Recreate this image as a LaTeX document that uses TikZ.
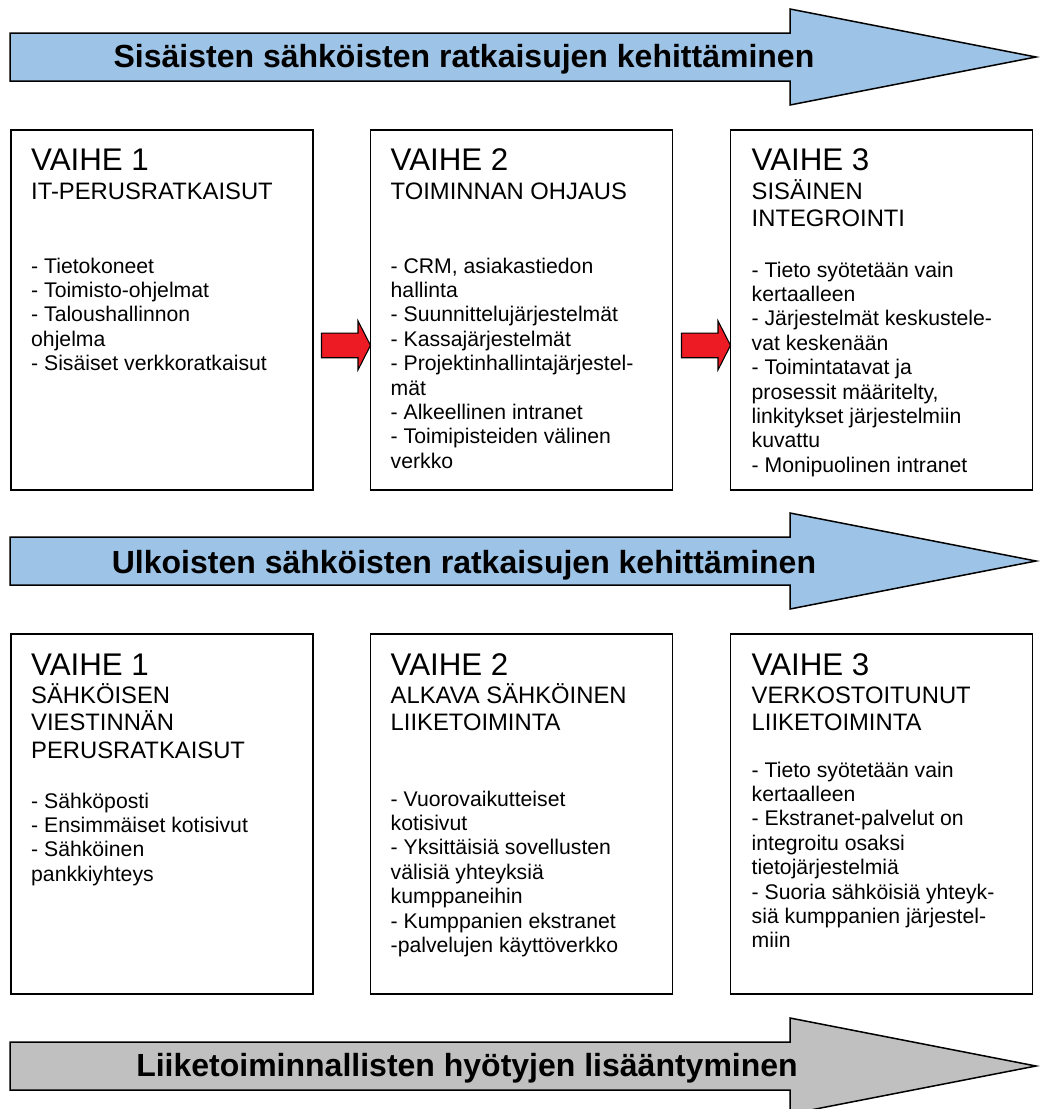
\documentclass[tikz,border=0pt]{standalone}
\usepackage{fontspec}
\setmainfont{Liberation Sans}
\usetikzlibrary{calc}

\definecolor{bandblue}{RGB}{157,195,230}
\definecolor{bandgray}{RGB}{192,192,192}
\definecolor{stepred}{RGB}{237,28,36}

% a block of left-aligned lines whose baseline is the first line
\newcommand\stagelines[1]{\parbox[t]{285pt}{\raggedright #1}}

\tikzset{
  stagebox/.style={draw=black, line width=1.8pt, anchor=north west,
    minimum width=302pt, minimum height=360pt, inner sep=0pt},
  phase/.style={anchor=base west, inner sep=0pt,
    font=\fontsize{31.3}{36}\selectfont},
  subtitle/.style={anchor=base west, inner sep=0pt,
    font=\fontsize{23.8}{27.8}\selectfont},
  bodytext/.style={anchor=base west, inner sep=0pt,
    font=\fontsize{21.2}{24.4}\selectfont},
  band/.style={draw=black, line width=1.5pt, line join=miter},
  bandtext/.style={anchor=base, inner sep=0pt,
    font=\fontsize{32}{38}\selectfont\bfseries},
  redarrow/.style={draw=black, fill=stepred, line width=1.1pt, line join=miter},
}

\begin{document}
\begin{tikzpicture}[x=1pt,y=-1pt]
\useasboundingbox (0,0) rectangle (1040,1109);
\clip (0,0) rectangle (1040,1109);

% ---------- band arrows ----------
\draw[band, fill=bandblue] (10,33) -- (790,33) -- (790,9) -- (1036,57)
  -- (790,105) -- (790,81) -- (10,81) -- cycle;
\node[bandtext] (band1) at (464,67) {Sisäisten sähköisten ratkaisujen kehittäminen};

\draw[band, fill=bandblue] (10,537) -- (790,537) -- (790,513) -- (1036,561)
  -- (790,609) -- (790,585) -- (10,585) -- cycle;
\node[bandtext] (band2) at (464,573) {Ulkoisten sähköisten ratkaisujen kehittäminen};

\draw[band, fill=bandgray] (10,1042) -- (790,1042) -- (790,1018) -- (1036,1066)
  -- (790,1114) -- (790,1090) -- (10,1090) -- cycle;
\node[bandtext] (band3) at (467,1076) {Liiketoiminnallisten hyötyjen lisääntyminen};

% ---------- internal solutions: stage boxes ----------
\node[stagebox] (a1) at (10,129) {};
\node[stagebox] (a2) at (369.5,129) {};
\node[stagebox] (a3) at (729.5,129) {};

\node[phase] (a1p) at ($(a1.north west)+(21,41)$) {VAIHE 1};
\node[subtitle] (a1s) at ($(a1.north west)+(21,70)$) {\stagelines{IT-PERUSRATKAISUT}};
\node[bodytext] (a1b) at ($(a1.north west)+(21,144)$) {\stagelines{%
- Tietokoneet\\
- Toimisto-ohjelmat\\
- Taloushallinnon\\
ohjelma\\
- Sisäiset verkkoratkaisut}};

\node[phase] (a2p) at ($(a2.north west)+(21,41)$) {VAIHE 2};
\node[subtitle] (a2s) at ($(a2.north west)+(21,70)$) {\stagelines{TOIMINNAN OHJAUS}};
\node[bodytext] (a2b) at ($(a2.north west)+(21,144)$) {\stagelines{%
- CRM, asiakastiedon\\
hallinta\\
- Suunnittelujärjestelmät\\
- Kassajärjestelmät\\
- Projektinhallintajärjestel-\\
mät\\
- Alkeellinen intranet\\
- Toimipisteiden välinen\\
verkko}};

\node[phase] (a3p) at ($(a3.north west)+(22,41)$) {VAIHE 3};
\node[subtitle] (a3s) at ($(a3.north west)+(22,70)$) {\stagelines{SISÄINEN\\INTEGROINTI}};
\node[bodytext] (a3b) at ($(a3.north west)+(22,148)$) {\stagelines{%
- Tieto syötetään vain\\
kertaalleen\\
- Järjestelmät keskustele-\\
vat keskenään\\
- Toimintatavat ja\\
prosessit määritelty,\\
linkitykset järjestelmiin\\
kuvattu\\
- Monipuolinen intranet}};

% red step arrows between the stages
\coordinate (r1) at ([xshift=1pt,yshift=-35.5pt]a2.west);
\coordinate (r2) at ([xshift=1pt,yshift=-35.5pt]a3.west);
\foreach \t in {r1,r2}{
  \draw[redarrow] (\t) -- ++(-12.5,-24.5) -- ++(0,12.2) -- ++(-36.5,0)
    -- ++(0,24.6) -- ++(36.5,0) -- ++(0,12.2) -- cycle;
}

% ---------- external solutions: stage boxes ----------
\node[stagebox] (b1) at (10,633) {};
\node[stagebox] (b2) at (369.5,633) {};
\node[stagebox] (b3) at (729.5,633) {};

\node[phase] (b1p) at ($(b1.north west)+(21,42)$) {VAIHE 1};
\node[subtitle] (b1s) at ($(b1.north west)+(21,70)$) {\stagelines{SÄHKÖISEN\\VIESTINNÄN\\PERUSRATKAISUT}};
\node[bodytext] (b1b) at ($(b1.north west)+(21,175)$) {\stagelines{%
- Sähköposti\\
- Ensimmäiset kotisivut\\
- Sähköinen\\
pankkiyhteys}};

\node[phase] (b2p) at ($(b2.north west)+(21,42)$) {VAIHE 2};
\node[subtitle] (b2s) at ($(b2.north west)+(21,70)$) {\stagelines{ALKAVA SÄHKÖINEN\\LIIKETOIMINTA}};
\node[bodytext] (b2b) at ($(b2.north west)+(21,173)$) {\stagelines{%
- Vuorovaikutteiset\\
kotisivut\\
- Yksittäisiä sovellusten\\
välisiä yhteyksiä\\
kumppaneihin\\
- Kumppanien ekstranet\\
-palvelujen käyttöverkko}};

\node[phase] (b3p) at ($(b3.north west)+(22,42)$) {VAIHE 3};
\node[subtitle] (b3s) at ($(b3.north west)+(22,70)$) {\stagelines{VERKOSTOITUNUT\\LIIKETOIMINTA}};
\node[bodytext] (b3b) at ($(b3.north west)+(22,144)$) {\stagelines{%
- Tieto syötetään vain\\
kertaalleen\\
- Ekstranet-palvelut on\\
integroitu osaksi\\
tietojärjestelmiä\\
- Suoria sähköisiä yhteyk-\\
siä kumppanien järjestel-\\
miin}};
\end{tikzpicture}
\end{document}
